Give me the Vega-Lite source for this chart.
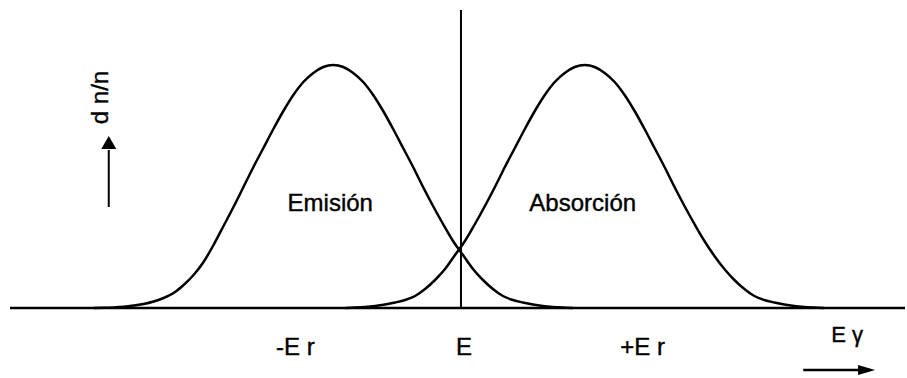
{
  "$schema": "https://vega.github.io/schema/vega-lite/v6.json",
  "width": 907,
  "height": 378,
  "autosize": {"type": "fit", "contains": "padding"},
  "padding": 0,
  "background": "white",
  "config": {"view": {"stroke": null}, "font": "Liberation Sans"},
  "datasets": {
    "curves": [
      {"curve": "Emisión", "e": -368, "h": 0},
      {"curve": "Emisión", "e": -358, "h": 0.2},
      {"curve": "Emisión", "e": -348, "h": 0.6},
      {"curve": "Emisión", "e": -338, "h": 1.3},
      {"curve": "Emisión", "e": -328, "h": 2.5},
      {"curve": "Emisión", "e": -318, "h": 4},
      {"curve": "Emisión", "e": -308, "h": 6.5},
      {"curve": "Emisión", "e": -298, "h": 10},
      {"curve": "Emisión", "e": -288, "h": 15},
      {"curve": "Emisión", "e": -278, "h": 23},
      {"curve": "Emisión", "e": -268, "h": 33},
      {"curve": "Emisión", "e": -258, "h": 46},
      {"curve": "Emisión", "e": -248, "h": 63},
      {"curve": "Emisión", "e": -238, "h": 82},
      {"curve": "Emisión", "e": -228, "h": 101},
      {"curve": "Emisión", "e": -218, "h": 121},
      {"curve": "Emisión", "e": -208, "h": 141},
      {"curve": "Emisión", "e": -198, "h": 160},
      {"curve": "Emisión", "e": -188, "h": 179},
      {"curve": "Emisión", "e": -178, "h": 197},
      {"curve": "Emisión", "e": -168, "h": 213},
      {"curve": "Emisión", "e": -158, "h": 226},
      {"curve": "Emisión", "e": -148, "h": 235},
      {"curve": "Emisión", "e": -138, "h": 241},
      {"curve": "Emisión", "e": -128, "h": 243},
      {"curve": "Emisión", "e": -118, "h": 241},
      {"curve": "Emisión", "e": -108, "h": 235},
      {"curve": "Emisión", "e": -98, "h": 226},
      {"curve": "Emisión", "e": -88, "h": 213},
      {"curve": "Emisión", "e": -78, "h": 197},
      {"curve": "Emisión", "e": -68, "h": 179},
      {"curve": "Emisión", "e": -58, "h": 160},
      {"curve": "Emisión", "e": -48, "h": 141},
      {"curve": "Emisión", "e": -38, "h": 121},
      {"curve": "Emisión", "e": -28, "h": 102},
      {"curve": "Emisión", "e": -18, "h": 84},
      {"curve": "Emisión", "e": -8, "h": 67},
      {"curve": "Emisión", "e": 2, "h": 53},
      {"curve": "Emisión", "e": 12, "h": 39},
      {"curve": "Emisión", "e": 22, "h": 28},
      {"curve": "Emisión", "e": 32, "h": 19},
      {"curve": "Emisión", "e": 42, "h": 12},
      {"curve": "Emisión", "e": 52, "h": 8},
      {"curve": "Emisión", "e": 62, "h": 5.5},
      {"curve": "Emisión", "e": 72, "h": 3.5},
      {"curve": "Emisión", "e": 82, "h": 2},
      {"curve": "Emisión", "e": 92, "h": 1},
      {"curve": "Emisión", "e": 102, "h": 0.4},
      {"curve": "Emisión", "e": 112, "h": 0},
      {"curve": "Absorción", "e": -116, "h": 0},
      {"curve": "Absorción", "e": -106, "h": 0.4},
      {"curve": "Absorción", "e": -96, "h": 1},
      {"curve": "Absorción", "e": -86, "h": 2},
      {"curve": "Absorción", "e": -76, "h": 3.5},
      {"curve": "Absorción", "e": -66, "h": 5.5},
      {"curve": "Absorción", "e": -56, "h": 8},
      {"curve": "Absorción", "e": -46, "h": 12},
      {"curve": "Absorción", "e": -36, "h": 19},
      {"curve": "Absorción", "e": -26, "h": 28},
      {"curve": "Absorción", "e": -16, "h": 39},
      {"curve": "Absorción", "e": -6, "h": 53},
      {"curve": "Absorción", "e": 4, "h": 67},
      {"curve": "Absorción", "e": 14, "h": 84},
      {"curve": "Absorción", "e": 24, "h": 102},
      {"curve": "Absorción", "e": 34, "h": 121},
      {"curve": "Absorción", "e": 44, "h": 141},
      {"curve": "Absorción", "e": 54, "h": 160},
      {"curve": "Absorción", "e": 64, "h": 179},
      {"curve": "Absorción", "e": 74, "h": 197},
      {"curve": "Absorción", "e": 84, "h": 213},
      {"curve": "Absorción", "e": 94, "h": 226},
      {"curve": "Absorción", "e": 104, "h": 235},
      {"curve": "Absorción", "e": 114, "h": 241},
      {"curve": "Absorción", "e": 124, "h": 243},
      {"curve": "Absorción", "e": 134, "h": 241},
      {"curve": "Absorción", "e": 144, "h": 235},
      {"curve": "Absorción", "e": 154, "h": 226},
      {"curve": "Absorción", "e": 164, "h": 213},
      {"curve": "Absorción", "e": 174, "h": 197},
      {"curve": "Absorción", "e": 184, "h": 179},
      {"curve": "Absorción", "e": 194, "h": 160},
      {"curve": "Absorción", "e": 204, "h": 141},
      {"curve": "Absorción", "e": 214, "h": 121},
      {"curve": "Absorción", "e": 224, "h": 102},
      {"curve": "Absorción", "e": 234, "h": 84},
      {"curve": "Absorción", "e": 244, "h": 67},
      {"curve": "Absorción", "e": 254, "h": 52},
      {"curve": "Absorción", "e": 264, "h": 39},
      {"curve": "Absorción", "e": 274, "h": 28},
      {"curve": "Absorción", "e": 284, "h": 19},
      {"curve": "Absorción", "e": 294, "h": 12},
      {"curve": "Absorción", "e": 304, "h": 8},
      {"curve": "Absorción", "e": 314, "h": 5.5},
      {"curve": "Absorción", "e": 324, "h": 3.5},
      {"curve": "Absorción", "e": 334, "h": 2},
      {"curve": "Absorción", "e": 344, "h": 1},
      {"curve": "Absorción", "e": 354, "h": 0.4},
      {"curve": "Absorción", "e": 364, "h": 0}
    ],
    "hrules": [
      {"name": "eje", "e": -452, "e2": 445, "h": 0},
      {"name": "flecha Eγ", "e": 343, "e2": 400, "h": -62}
    ],
    "vrules": [
      {"name": "E", "e": 0, "h": 0, "h2": 298},
      {"name": "flecha dn/n", "e": -353, "h": 101, "h2": 158}
    ],
    "uparrow": [{"e": -353, "h": 165.5}],
    "rightarrow": [{"e": 406.5, "h": -62}],
    "inner": [
      {"label": "Emisión", "e": -131, "h": 97},
      {"label": "Absorción", "e": 122, "h": 97}
    ],
    "ticks": [
      {"label": "-E r", "e": -166, "h": -47},
      {"label": "E", "e": 3, "h": -47},
      {"label": "+E r", "e": 182, "h": -47}
    ],
    "xtitle": [{"label": "E γ", "e": 371, "h": -34}],
    "ytitle": [{"label": "d n/n", "e": -354, "h": 210.5}]
  },
  "layer": [
    {
      "data": {"name": "hrules"},
      "mark": {"type": "rule", "color": "black", "strokeWidth": 2.5},
      "encoding": {
        "x": {"field": "e", "type": "quantitative", "scale": {"domain": [-462, 445], "nice": false, "zero": false}, "axis": null},
        "x2": {"field": "e2"},
        "y": {"field": "h", "type": "quantitative", "scale": {"domain": [-70, 308], "nice": false, "zero": false}, "axis": null}
      }
    },
    {
      "data": {"name": "vrules"},
      "mark": {"type": "rule", "color": "black", "strokeWidth": 2},
      "encoding": {
        "x": {"field": "e", "type": "quantitative", "axis": null},
        "y": {"field": "h", "type": "quantitative", "axis": null},
        "y2": {"field": "h2"}
      }
    },
    {
      "data": {"name": "curves"},
      "mark": {"type": "line", "interpolate": "monotone", "stroke": "black", "strokeWidth": 2.5},
      "encoding": {
        "x": {"field": "e", "type": "quantitative", "axis": null},
        "y": {"field": "h", "type": "quantitative", "axis": null},
        "detail": {"field": "curve", "type": "nominal"}
      }
    },
    {
      "data": {"name": "uparrow"},
      "mark": {"type": "point", "shape": "triangle-up", "size": 225, "filled": true, "color": "black", "opacity": 1},
      "encoding": {
        "x": {"field": "e", "type": "quantitative", "axis": null},
        "y": {"field": "h", "type": "quantitative", "axis": null}
      }
    },
    {
      "data": {"name": "rightarrow"},
      "mark": {"type": "point", "shape": "M-1,-0.6L1,0L-1,0.6Z", "size": 289, "filled": true, "color": "black", "opacity": 1},
      "encoding": {
        "x": {"field": "e", "type": "quantitative", "axis": null},
        "y": {"field": "h", "type": "quantitative", "axis": null}
      }
    },
    {
      "data": {"name": "inner"},
      "mark": {"type": "text", "fontSize": 24, "font": "Liberation Sans", "align": "center", "baseline": "alphabetic", "color": "black", "stroke": "black", "strokeWidth": 0.4},
      "encoding": {
        "x": {"field": "e", "type": "quantitative", "axis": null},
        "y": {"field": "h", "type": "quantitative", "axis": null},
        "text": {"field": "label"}
      }
    },
    {
      "data": {"name": "ticks"},
      "mark": {"type": "text", "fontSize": 24, "font": "Liberation Sans", "align": "center", "baseline": "alphabetic", "color": "black", "stroke": "black", "strokeWidth": 0.4},
      "encoding": {
        "x": {"field": "e", "type": "quantitative", "axis": null},
        "y": {"field": "h", "type": "quantitative", "axis": null},
        "text": {"field": "label"}
      }
    },
    {
      "data": {"name": "xtitle"},
      "mark": {"type": "text", "fontSize": 22, "font": "Liberation Sans", "align": "left", "baseline": "alphabetic", "color": "black", "stroke": "black", "strokeWidth": 0.4},
      "encoding": {
        "x": {"field": "e", "type": "quantitative", "axis": null},
        "y": {"field": "h", "type": "quantitative", "axis": null},
        "text": {"field": "label"}
      }
    },
    {
      "data": {"name": "ytitle"},
      "mark": {"type": "text", "fontSize": 24, "font": "Liberation Sans", "align": "center", "baseline": "alphabetic", "angle": 270, "color": "black", "stroke": "black", "strokeWidth": 0.4},
      "encoding": {
        "x": {"field": "e", "type": "quantitative", "axis": null},
        "y": {"field": "h", "type": "quantitative", "axis": null},
        "text": {"field": "label"}
      }
    }
  ]
}
